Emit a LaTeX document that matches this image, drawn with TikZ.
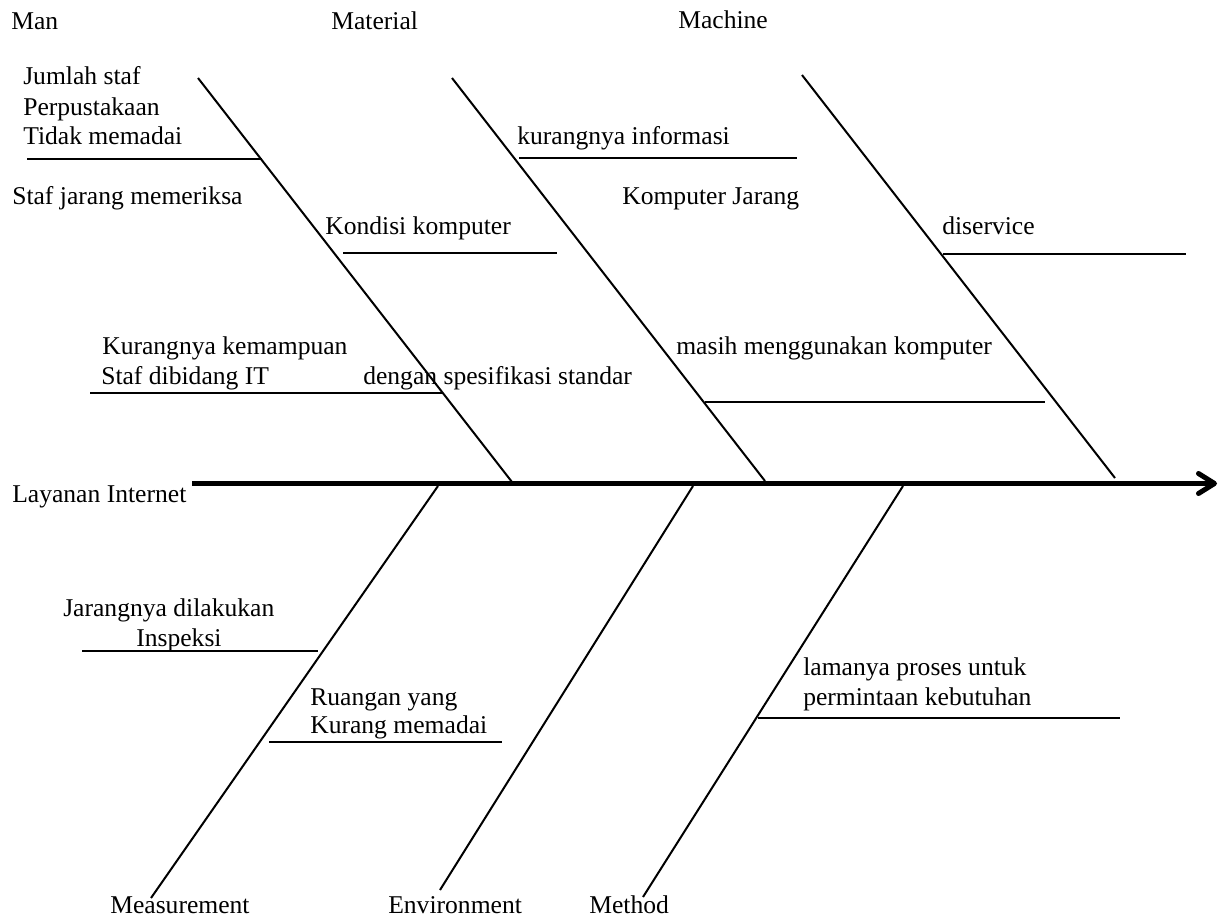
\documentclass[tikz,border=0pt]{standalone}
\usepackage{fontspec}
\setmainfont{Liberation Serif}
\usetikzlibrary{arrows.meta}
\begin{document}
\begin{tikzpicture}[x=0.75pt,y=-0.75pt,
  lbl/.style={anchor=base west,inner sep=0pt,font=\fontsize{19.2}{23}\selectfont},
  bone/.style={line width=1.5pt},
  twig/.style={line width=1.5pt},
  spine/.style={line width=3.75pt}]
\useasboundingbox (0,0) rectangle (1218,918);
% category labels
\node[lbl] (man) at (11,29) {Man};
\node[lbl] (material) at (331,29) {Material};
\node[lbl] (machine) at (678,28) {Machine};
\node[lbl] (measurement) at (110,913) {Measurement};
\node[lbl] (environment) at (388,913) {Environment};
\node[lbl] (method) at (589,913) {Method};
\node[lbl] (effect) at (12,502) {Layanan Internet};
% cause texts
\node[lbl] (c1a) at (23,84) {Jumlah staf};
\node[lbl] (c1b) at (23,115) {Perpustakaan};
\node[lbl] (c1c) at (23,144) {Tidak memadai};
\node[lbl] (c2) at (12,204) {Staf jarang memeriksa};
\node[lbl] (c3) at (325,234) {Kondisi komputer};
\node[lbl] (c4) at (517,144) {kurangnya informasi};
\node[lbl] (c5) at (622,204) {Komputer Jarang};
\node[lbl] (c6) at (942,234) {diservice};
\node[lbl] (c7a) at (102,354) {Kurangnya kemampuan};
\node[lbl] (c7b) at (101,384) {Staf dibidang IT};
\node[lbl] (c8) at (363,384) {dengan spesifikasi standar};
\node[lbl] (c9) at (676,354) {masih menggunakan komputer};
\node[lbl] (c10a) at (63,616) {Jarangnya dilakukan};
\node[lbl] (c10b) at (136,646) {Inspeksi};
\node[lbl] (c11a) at (310,705) {Ruangan yang};
\node[lbl] (c11b) at (310,733) {Kurang memadai};
\node[lbl] (c12a) at (803,675) {lamanya proses untuk};
\node[lbl] (c12b) at (803,705) {permintaan kebutuhan};
% coordinates
\coordinate (sL) at (192,483.5);
\coordinate (sR) at (1217,483.5);
\coordinate (manT) at (198,78);   \coordinate (manB) at (512,482);
\coordinate (matT) at (452,78);   \coordinate (matB) at (765,481);
\coordinate (macT) at (802,75);   \coordinate (macB) at (1115,478);
\coordinate (meaT) at (438,486);  \coordinate (meaB) at (151,898);
\coordinate (envT) at (693,486);  \coordinate (envB) at (440,890);
\coordinate (metT) at (903,486);  \coordinate (metB) at (643,897);
\coordinate (t1a) at (27,159);   \coordinate (t1b) at (262,159);
\coordinate (t2a) at (343,253);  \coordinate (t2b) at (557,253);
\coordinate (t3a) at (90,393);   \coordinate (t3b) at (443,393);
\coordinate (t4a) at (519,158);  \coordinate (t4b) at (797,158);
\coordinate (t5a) at (705,402);  \coordinate (t5b) at (1045,402);
\coordinate (t6a) at (943,254);  \coordinate (t6b) at (1186,254);
\coordinate (t7a) at (82,651);   \coordinate (t7b) at (318,651);
\coordinate (t8a) at (269,742);  \coordinate (t8b) at (502,742);
\coordinate (t9a) at (758,718);  \coordinate (t9b) at (1120,718);
% spine
\draw[spine,-{Straight Barb[length=12pt,width=15pt,round]}] (sL) -- (sR);
% bones
\draw[bone] (manT) -- (manB);
\draw[bone] (matT) -- (matB);
\draw[bone] (macT) -- (macB);
\draw[bone] (meaT) -- (meaB);
\draw[bone] (envT) -- (envB);
\draw[bone] (metT) -- (metB);
% twigs
\foreach \i in {1,...,9} {\draw[twig] (t\i a) -- (t\i b);}
\end{tikzpicture}
\end{document}
